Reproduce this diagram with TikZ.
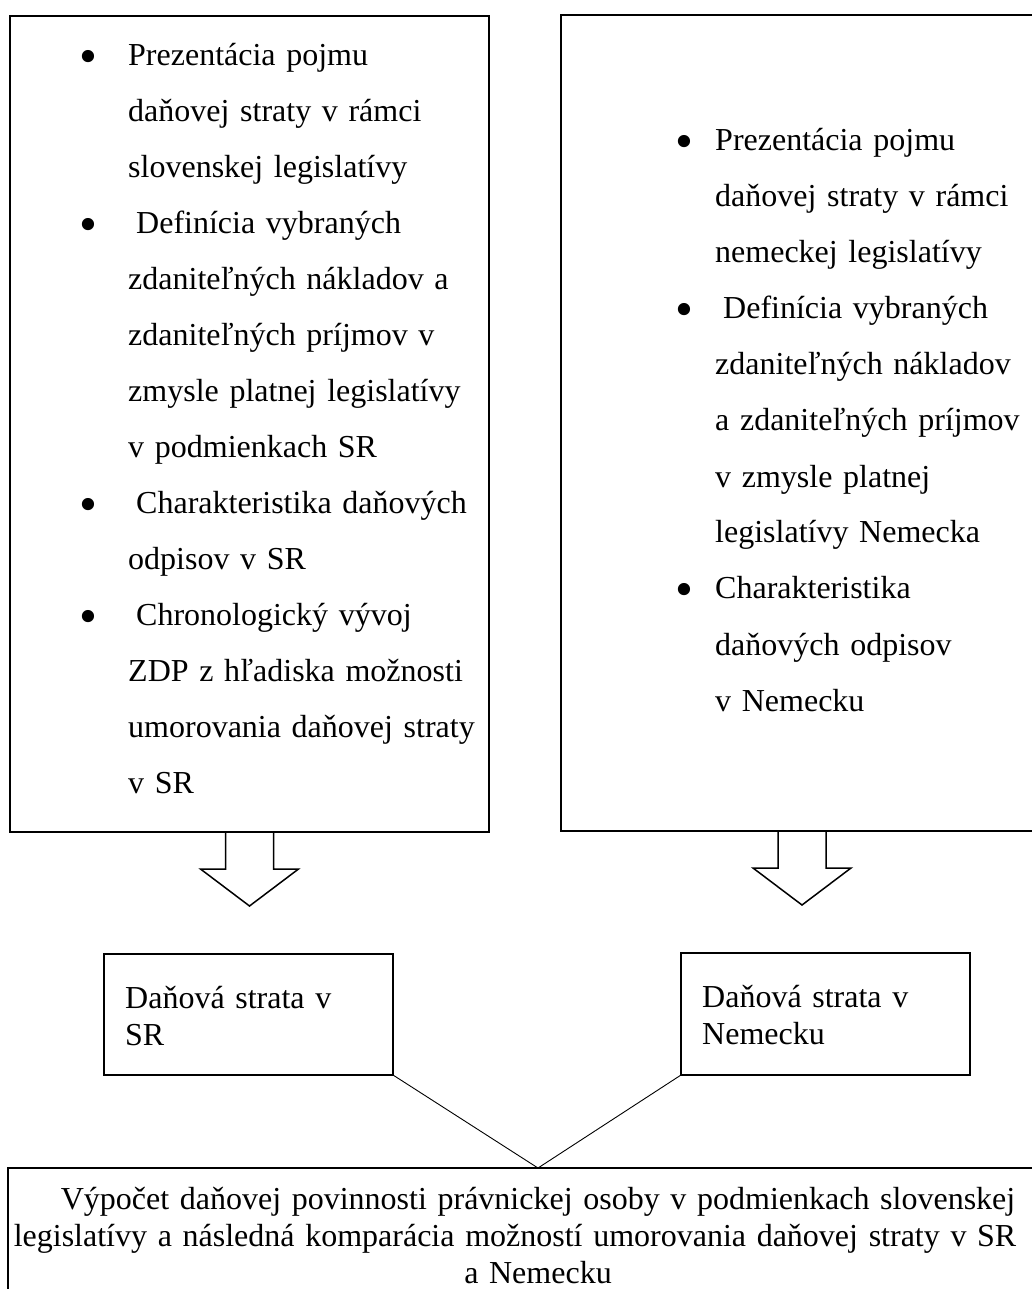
\documentclass[tikz,border=0pt]{standalone}
\usepackage{fontspec}
\setmainfont{Liberation Serif}

% odrazka pred polozkou zoznamu (medzera, posun textu)
\newcommand{\odrazka}[2]{\leavevmode\llap{\raisebox{-7.5pt}{\scalebox{1.6}{\textbullet}}\hspace{#1}}\kern#2}

\tikzset{
    ramcek/.style={draw, line width=1.6pt, inner sep=0pt, outer sep=0pt},
    zoznam/.style={anchor=base west, inner sep=0pt, align=left, text width=#1,
        font=\fontsize{32}{56}\selectfont},
    popis/.style={anchor=base west, inner sep=0pt, align=left, text width=#1,
        font=\fontsize{32}{37}\selectfont},
    sipka/.style={draw, line width=1.5pt, line join=miter},
    spojnica/.style={draw, line width=0.9pt}
}

\begin{document}
\begin{tikzpicture}[x=1pt, y=-1pt]
    \useasboundingbox (0,0) rectangle (1032,1289);
    \clip (0,0) rectangle (1032,1289);

    % lavy ramcek
    \node [ramcek, minimum width=479pt, minimum height=816pt] (sr) at (249.5,424) {};
    \node [zoznam=360pt] (srtext) at (128,66) {%
        \odrazka{31pt}{0pt}Prezentácia pojmu\\
        daňovej straty v rámci\\
        slovenskej legislatívy\\
        \odrazka{31pt}{8pt}Definícia vybraných\\
        zdaniteľných nákladov a\\
        zdaniteľných príjmov v\\
        zmysle platnej legislatívy\\
        v podmienkach SR\\
        \odrazka{31pt}{8pt}Charakteristika daňových\\
        odpisov v SR\\
        \odrazka{31pt}{8pt}Chronologický vývoj\\
        ZDP z hľadiska možnosti\\
        umorovania daňovej straty\\
        v SR};

    % pravy ramcek
    \node [ramcek, minimum width=482pt, minimum height=816pt] (nem) at (802,423) {};
    \node [zoznam=320pt] (nemtext) at (715,151) {%
        \odrazka{22pt}{0pt}Prezentácia pojmu\\
        daňovej straty v rámci\\
        nemeckej legislatívy\\
        \odrazka{22pt}{8pt}Definícia vybraných\\
        zdaniteľných nákladov\\
        a zdaniteľných príjmov\\
        v zmysle platnej\\
        legislatívy Nemecka\\
        \odrazka{22pt}{0pt}Charakteristika\\
        daňových odpisov\\
        v Nemecku};

    % sipky
    \draw [sipka] (sr.south) ++(-24,0) -- ++(0,37) -- ++(-25,0) -- ++(49,37)
        -- ++(49,-37) -- ++(-25,0) -- ++(0,-37);
    \draw [sipka] (nem.south) ++(-24,0) -- ++(0,37) -- ++(-25,0) -- ++(49,37)
        -- ++(49,-37) -- ++(-25,0) -- ++(0,-37);

    % danova strata
    \node [ramcek, minimum width=289pt, minimum height=121pt] (srstrata) at (248.5,1014.5) {};
    \node [popis=260pt] (srstratatext) at (125,1008) {Daňová strata v\\ SR};
    \node [ramcek, minimum width=289pt, minimum height=122pt] (nemstrata) at (825.5,1014) {};
    \node [popis=260pt] (nemstratatext) at (702,1007) {Daňová strata v\\ Nemecku};

    % vypocet
    \node [ramcek, minimum width=1060pt, minimum height=152pt] (vypocet) at (538,1244) {};
    \node [popis=1100pt, anchor=base, align=center] (vypocettext) at (538,1209) {%
        Výpočet daňovej povinnosti právnickej osoby v podmienkach slovenskej\\
        legislatívy a následná komparácia možností umorovania daňovej straty v SR\kern46pt\\
        a Nemecku};

    % spojnice
    \draw [spojnica] (srstrata.south east) -- (vypocet.north) -- (nemstrata.south west);
\end{tikzpicture}
\end{document}
